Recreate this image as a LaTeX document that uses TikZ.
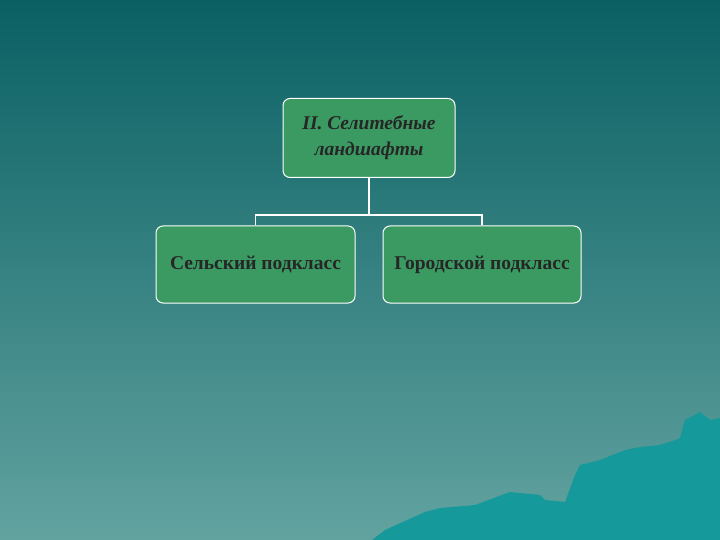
\documentclass[tikz,border=0pt]{standalone}
\usepackage{fontspec}
\setmainfont{Liberation Serif}
\begin{document}
\begin{tikzpicture}[x=1pt,y=-1pt,
  box/.style={draw=white,line width=1pt,fill=boxgreen,rounded corners=7pt,text=black!85,align=center,font=\fontsize{19.5}{22}\selectfont\bfseries},
  conn/.style={draw=white,line width=1.5pt}]
\definecolor{topc}{HTML}{0A6063}
\definecolor{botc}{HTML}{62A3A0}
\definecolor{boxgreen}{HTML}{3A9A62}
\definecolor{mount}{HTML}{16999A}
\useasboundingbox (0,0) rectangle (720,540);
\shade[top color=topc,bottom color=botc] (0,0) rectangle (720,540);
\fill[mount] (372,540) -- (385,530) -- (425,512) -- (440,508) -- (475,505) -- (510,492) -- (540,495) -- (545,500) -- (565,502) -- (575,475) -- (580,465) -- (600,460) -- (625,450) -- (640,447) -- (660,445) -- (675,440) -- (680,438) -- (685,420) -- (700,412) -- (710,420) -- (720,418) -- (720,540) -- cycle;
\node[box,minimum width=172pt,minimum height=79pt,font=\fontsize{19.5}{26}\selectfont\bfseries\itshape] (top) at (369,138) {II. Селитебные\\ландшафты};
\node[box,minimum width=199pt,minimum height=77pt] (left) at (255.5,264.5) {Сельский подкласс};
\node[box,minimum width=198pt,minimum height=77pt] (right) at (482,264.5) {Городской подкласс};
\coordinate (mid) at (369,215);
\draw[conn] (top.south) -- (mid);
\draw[conn] (left.north) |- (mid) -| (right.north);
\end{tikzpicture}
\end{document}
